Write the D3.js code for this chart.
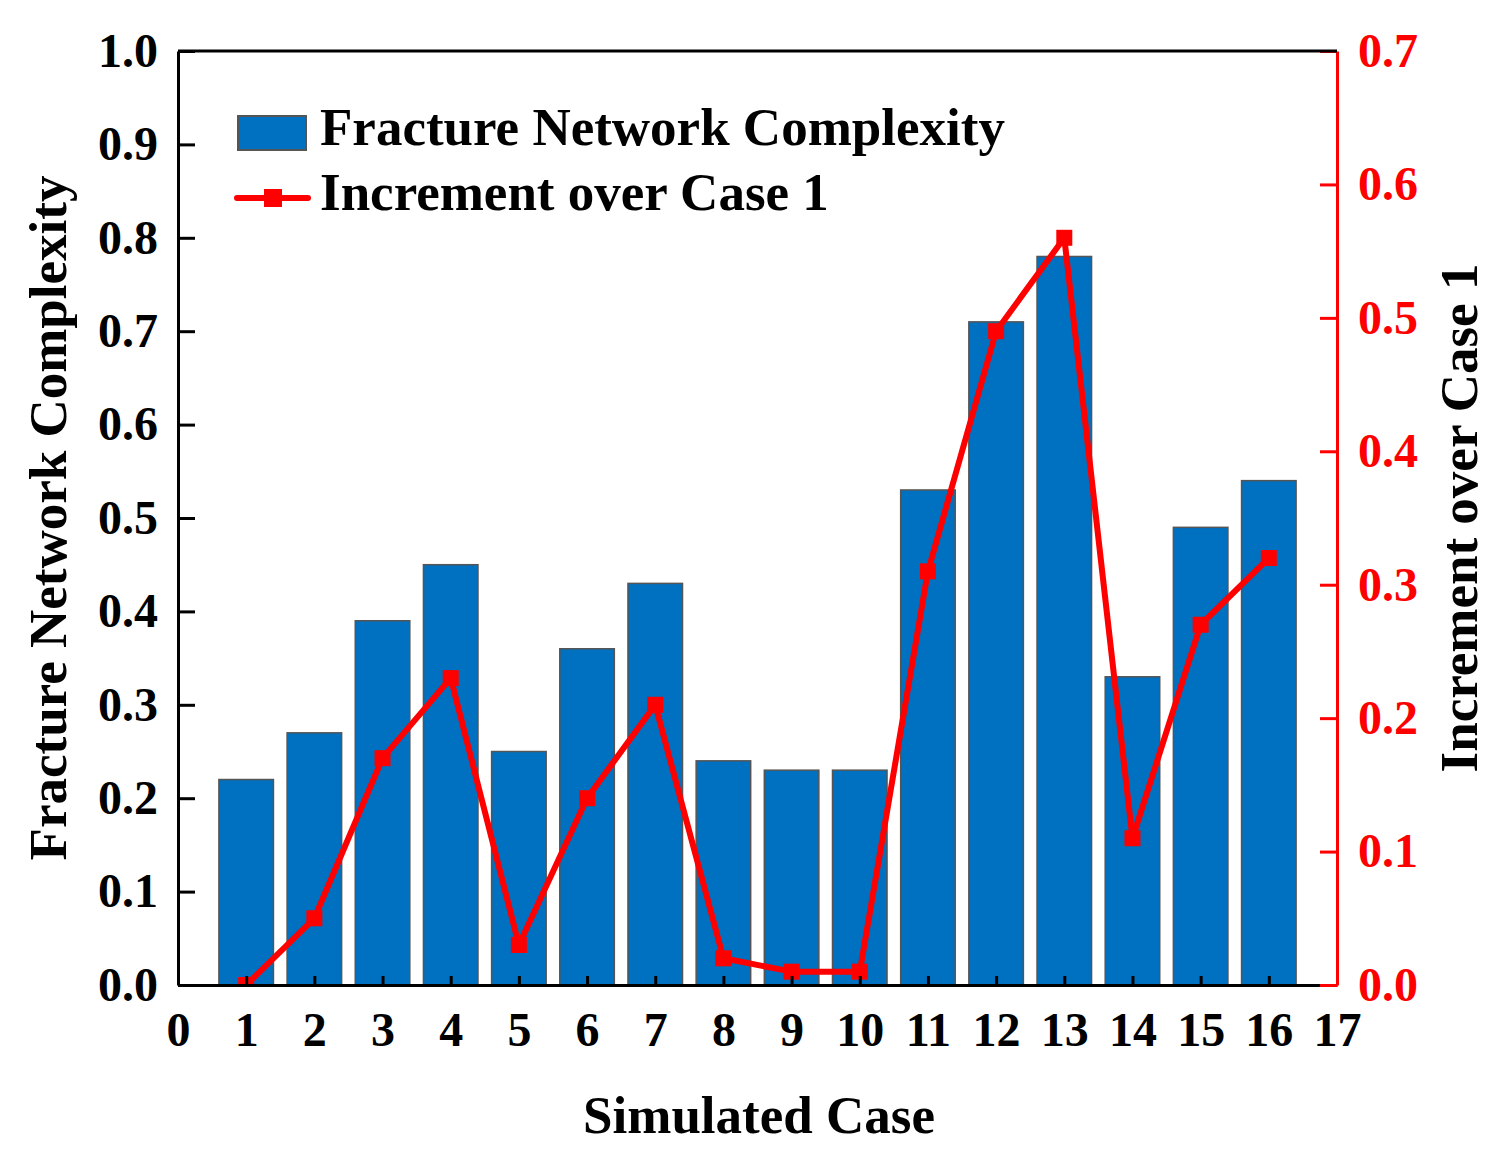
<!DOCTYPE html>
<meta charset="utf-8">
<html>
<head>
  <script src="https://cdnjs.cloudflare.com/ajax/libs/d3/7.8.5/d3.min.js"></script>
  <style>
    body { margin: 0; background: #fff; }
    text { font-family: "Liberation Serif", "Times New Roman", serif; font-weight: bold; }
  </style>
</head>
<body>
<div id="chart"></div>
<script>
// simulated cases and their values
var cases = [1, 2, 3, 4, 5, 6, 7, 8, 9, 10, 11, 12, 13, 14, 15, 16];
var complexity = [0.22, 0.27, 0.39, 0.45, 0.25, 0.36, 0.43, 0.24, 0.23, 0.23, 0.53, 0.71, 0.78, 0.33, 0.49, 0.54];
var increment = [0.00, 0.05, 0.17, 0.23, 0.03, 0.14, 0.21, 0.02, 0.01, 0.01, 0.31, 0.49, 0.56, 0.11, 0.27, 0.32];
var xTicks = d3.range(0, 18);
var leftTicks = [0, 0.1, 0.2, 0.3, 0.4, 0.5, 0.6, 0.7, 0.8, 0.9, 1.0];
var rightTicks = [0, 0.1, 0.2, 0.3, 0.4, 0.5, 0.6, 0.7];

var barFill = "#0070C0";
var red = "#FF0000";

var width = 1497, height = 1151;
var margin = {left: 178, right: 160, top: 51, bottom: 166};

var svg = d3.select("#chart").append("svg")
  .attr("width", width)
  .attr("height", height);

var x = d3.scaleLinear().domain([0, 17]).range([margin.left, width - margin.right]);
var yL = d3.scaleLinear().domain([0, 1]).range([height - margin.bottom, margin.top]);
var yR = d3.scaleLinear().domain([0, 0.7]).range([height - margin.bottom, margin.top]);
var step = x(1) - x(0);
var barW = step * 0.8;

svg.append("clipPath").attr("id", "plot")
  .append("rect")
  .attr("x", margin.left).attr("y", margin.top)
  .attr("width", x(17) - x(0)).attr("height", yL(0) - yL(1));

// bars
svg.append("g").selectAll("rect")
  .data(cases)
  .enter().append("rect")
  .attr("x", function(d){ return x(d) - barW / 2; })
  .attr("y", function(d, i){ return yL(complexity[i]); })
  .attr("width", barW)
  .attr("height", function(d, i){ return yL(0) - yL(complexity[i]); })
  .attr("fill", barFill)
  .attr("stroke", "#555")
  .attr("stroke-width", 1.5);

// increment line + markers
var line = d3.line()
  .x(function(d, i){ return x(cases[i]); })
  .y(function(d){ return yR(d); });

var lineG = svg.append("g").attr("clip-path", "url(#plot)");
lineG.append("path")
  .datum(increment)
  .attr("d", line)
  .attr("fill", "none")
  .attr("stroke", red)
  .attr("stroke-width", 6)
  .attr("stroke-linejoin", "round");

lineG.selectAll("rect")
  .data(increment)
  .enter().append("rect")
  .attr("x", function(d, i){ return x(cases[i]) - 8; })
  .attr("y", function(d){ return yR(d) - 8; })
  .attr("width", 16)
  .attr("height", 16)
  .attr("fill", red);

// axes
var xAxis = svg.append("g")
  .attr("transform", "translate(0," + yL(0) + ")")
  .call(d3.axisBottom(x).tickValues(xTicks).tickFormat(d3.format("d")).tickSizeInner(-9).tickSizeOuter(0).tickPadding(27));

var lAxis = svg.append("g")
  .attr("transform", "translate(" + margin.left + ",0)")
  .call(d3.axisLeft(yL).tickValues(leftTicks).tickFormat(d3.format(".1f")).tickSizeInner(-17).tickSizeOuter(0).tickPadding(20));

var rAxis = svg.append("g")
  .attr("transform", "translate(" + x(17) + ",0)")
  .call(d3.axisRight(yR).tickValues(rightTicks).tickFormat(d3.format(".1f")).tickSizeInner(-17).tickSizeOuter(0).tickPadding(21));

// top border
svg.append("line")
  .attr("x1", margin.left).attr("x2", x(17))
  .attr("y1", yL(1)).attr("y2", yL(1))
  .attr("stroke", "#000").attr("stroke-width", 3);

[xAxis, lAxis].forEach(function(g){
  g.selectAll("path, line").attr("stroke", "#000").attr("stroke-width", 3);
  g.selectAll("text").attr("fill", "#000").style("font-size", "48px");
});
rAxis.selectAll("path, line").attr("stroke", red).attr("stroke-width", 3);
rAxis.selectAll("text").attr("fill", red).style("font-size", "48px");
xAxis.selectAll("text").attr("dy", "0.71em");

// axis titles
svg.append("text")
  .attr("x", 759)
  .attr("y", 1133)
  .attr("text-anchor", "middle")
  .style("font-size", "53px")
  .text("Simulated Case");

svg.append("text")
  .attr("transform", "translate(66," + yL(0.5) + ") rotate(-90)")
  .attr("text-anchor", "middle")
  .style("font-size", "53px")
  .text("Fracture Network Complexity");

svg.append("text")
  .attr("transform", "translate(1477," + yL(0.5) + ") rotate(-90)")
  .attr("text-anchor", "middle")
  .style("font-size", "53px")
  .text("Increment over Case 1");

// legend
var legend = svg.append("g");
legend.append("rect")
  .attr("x", 238).attr("y", 116)
  .attr("width", 68).attr("height", 34)
  .attr("fill", barFill).attr("stroke", "#555").attr("stroke-width", 2);
legend.append("text")
  .attr("x", 320).attr("y", 145)
  .style("font-size", "53px")
  .text("Fracture Network Complexity");

legend.append("line")
  .attr("x1", 237).attr("x2", 308)
  .attr("y1", 198).attr("y2", 198)
  .attr("stroke", red).attr("stroke-width", 6).attr("stroke-linecap", "round");
legend.append("rect")
  .attr("x", 264).attr("y", 189)
  .attr("width", 18).attr("height", 18)
  .attr("fill", red);
legend.append("text")
  .attr("x", 320).attr("y", 210)
  .style("font-size", "53px")
  .text("Increment over Case 1");
</script>
</body>
</html>
